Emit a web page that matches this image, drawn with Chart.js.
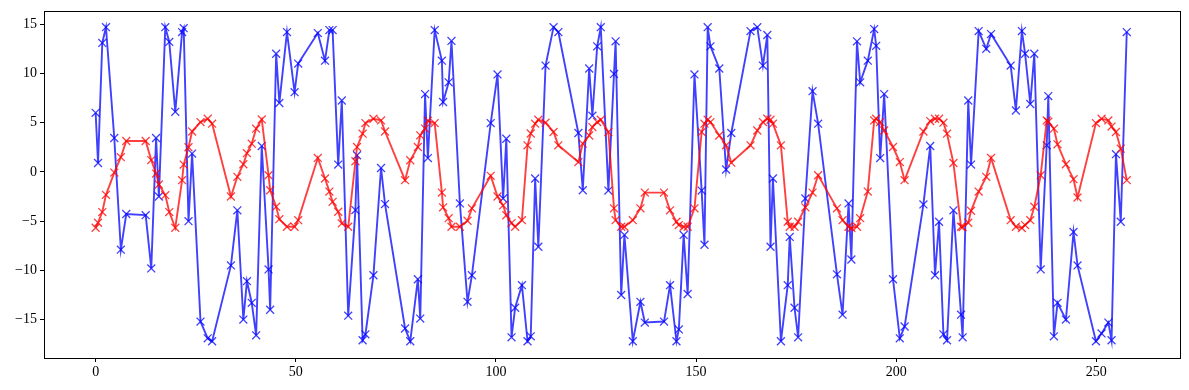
<!DOCTYPE html>
<html lang="en">
<head>
    <meta charset="UTF-8">
    <title>Two series</title>
    <script src="https://cdn.jsdelivr.net/npm/chart.js"></script>
    <style>
        body { margin: 0; background: #fff; }
        canvas { display: block; }
    </style>
</head>
<body>
    <canvas id="chart" width="1189" height="390"></canvas>

    <script>
        // sample positions shared by both series
        const xs = [
            0.0, 0.6, 1.66, 2.58, 4.66, 6.3, 7.65, 12.5, 13.9, 15.1, 15.8, 17.4, 18.4, 19.9, 21.6, 22.0,
            23.2, 24.1, 26.2, 28.0, 29.1, 33.8, 35.4, 36.9, 37.8, 39.0, 40.1, 41.5, 43.2, 43.6, 45.1, 45.9,
            47.8, 49.7, 50.6, 55.5, 57.3, 58.4, 59.2, 60.6, 61.5, 63.1, 64.9, 65.3, 66.7, 67.4, 69.4, 71.3,
            72.3, 77.3, 78.6, 80.5, 81.1, 82.3, 83.0, 84.7, 86.5, 86.8, 88.2, 88.9, 91.0, 92.9, 94.0, 98.7,
            100.4, 101.8, 102.6, 103.9, 104.8, 106.5, 107.9, 108.7, 109.8, 110.6, 112.4, 114.4, 115.6, 120.6,
            121.7, 123.3, 124.1, 125.3, 126.2, 128.1, 129.5, 129.9, 131.3, 132.1, 134.2, 136.1, 137.2, 142.0,
            143.5, 145.1, 145.7, 146.9, 147.9, 149.6, 151.4, 152.1, 152.9, 153.6, 155.8, 157.5, 158.8, 163.6,
            165.3, 166.7, 167.8, 168.6, 169.2, 171.2, 172.9, 173.4, 174.6, 175.5, 177.3, 179.1, 180.5, 185.2,
            186.6, 188.1, 188.8, 190.2, 191.0, 192.9, 194.5, 195.0, 196.0, 197.0, 199.2, 200.9, 202.1, 206.8,
            208.5, 209.7, 210.7, 211.8, 212.7, 214.3, 216.2, 216.6, 218.0, 218.7, 220.6, 222.5, 223.7, 228.6,
            229.9, 231.4, 232.2, 233.5, 234.5, 236.1, 237.6, 238.0, 239.4, 240.3, 242.4, 244.3, 245.3, 249.9,
            251.3, 253.0, 253.8, 254.9, 256.1, 257.6
        ];

        const blueVals = [
            6.0, 0.9, 13.1, 14.7, 3.44, -7.9, -4.28, -4.39, -9.8, 3.44, -2.5, 14.7, 13.2, 6.1, 14.2, 14.6,
            -5.0, 1.86, -15.2, -16.9, -17.2, -9.5, -3.9, -15.0, -11.1, -13.3, -16.6, 2.63, -9.9, -14.0, 12.0, 7.0,
            14.2, 8.1, 11.0, 14.1, 11.3, 14.4, 14.4, 0.74, 7.25, -14.6, -3.88, 1.69, -17.1, -16.5, -10.5, 0.4,
            -3.27, -15.9, -17.2, -10.9, -14.9, 7.9, 1.4, 14.4, 11.3, 7.1, 9.1, 13.3, -3.2, -13.2, -10.5, 4.96,
            9.9, -2.7, 3.37, -16.8, -13.8, -11.5, -17.2, -16.7, -0.67, -7.6, 10.8, 14.7, 14.2, 3.95,
            -1.86, 10.5, 5.7, 12.75, 14.7, -1.9, 9.95, 13.26, -12.5, -6.4, -17.2, -13.2, -15.3, -15.2,
            -11.5, -17.2, -16.0, -6.4, -12.4, 9.9, -1.9, -7.4, 14.7, 12.75, 10.5, 0.24, 3.95, 14.3,
            14.7, 10.8, 13.9, -7.6, -0.67, -17.2, -11.5, -6.6, -13.8, -16.8, -2.7, 8.2, 4.9, -10.4,
            -14.5, -3.2, -8.9, 13.26, 9.1, 11.3, 14.5, 12.8, 1.4, 7.9, -10.9, -16.9, -15.7, -3.3,
            2.63, -10.5, -5.06, -16.5, -17.1, -3.9, -14.5, -16.8, 7.25, 0.74, 14.3, 12.5, 14.0, 10.8,
            6.24, 14.3, 12.0, 6.9, 12.0, -9.9, 2.7, 7.7, -16.7, -13.3, -15.0, -6.1, -9.5, -17.2,
            -16.4, -15.3, -17.1, 1.8, -5.06, 14.2
        ];

        const redVals = [
            -5.67, -5.16, -4.08, -2.33, -0.07, 1.5, 3.14, 3.14, 1.2, -0.17, -1.28, -2.36, -4.08, -5.67, -0.84, 0.74,
            2.5, 4.1, 5.06, 5.4, 4.9, -2.5, -0.5, 0.78, 1.9, 2.87, 4.39, 5.33, -0.34, -1.86, -3.54, -4.8,
            -5.57, -5.57, -4.9, 1.42, -0.67, -2.0, -3.04, -4.05, -5.23, -5.57, 1.08, 2.53, 3.88, 4.96, 5.4, 5.23,
            4.1, -0.84, 1.18, 2.53, 3.71, 4.4, 5.2, 4.96, -2.1, -3.6, -4.7, -5.57, -5.57, -4.96, -3.7, -0.4,
            -2.5, -3.4, -4.4, -5.2, -5.57, -4.9, 2.7, 3.9, 4.9, 5.3, 5.0, 4.05, 2.7, 1.0,
            2.87, 3.7, 4.55, 5.06, 5.3, 4.05, -3.7, -4.9, -5.57, -5.57, -4.9, -3.7, -2.1, -2.1,
            -3.9, -5.06, -5.4, -5.57, -5.57, -3.7, 4.05, 4.9, 5.3, 5.06, 3.7, 2.7, 0.94, 2.7,
            4.2, 5.06, 5.4, 5.3, 4.9, 2.7, -5.06, -5.57, -5.57, -5.06, -3.6, -2.1, -0.34, -3.7,
            -4.9, -5.57, -5.7, -5.57, -4.7, -2.0, 5.23, 5.4, 5.06, 4.2, 2.53, 1.0, -0.84, 4.1,
            5.16, 5.4, 5.4, 5.0, 3.88, 0.9, -5.57, -5.6, -5.16, -3.95, -2.0, -0.5, 1.42, -4.9,
            -5.57, -5.7, -5.4, -4.9, -3.54, -0.34, 5.23, 5.1, 4.39, 2.8, 0.78, -0.74, -2.6, 4.96,
            5.4, 5.23, 4.6, 4.05, 2.36, -0.84
        ];

        const xTicks = [0, 50, 100, 150, 200, 250];
        const yTicks = [-15, -10, -5, 0, 5, 10, 15];

        const toPoints = vals => xs.map((x, i) => ({ x: x, y: vals[i] }));

        // full box around the plot area, like matplotlib spines
        const frame = {
            id: 'frame',
            afterDraw(chart) {
                const a = chart.chartArea;
                const ctx = chart.ctx;
                ctx.save();
                ctx.strokeStyle = '#000';
                ctx.lineWidth = 1;
                ctx.strokeRect(Math.round(a.left) + 0.5, Math.round(a.top) + 0.5,
                    Math.round(a.right - a.left), Math.round(a.bottom - a.top));
                ctx.restore();
            }
        };

        const tickFont = { family: '"Liberation Serif", "DejaVu Serif", serif', size: 14 };
        const minusLabel = v => String(v).replace('-', '\u2212');

        new Chart(document.getElementById('chart').getContext('2d'), {
            type: 'line',
            data: {
                datasets: [
                    {
                        data: toPoints(redVals),
                        borderColor: 'rgba(255, 0, 0, 0.75)',
                        pointBorderColor: 'rgba(255, 0, 0, 0.75)',
                        borderWidth: 1.9,
                        pointStyle: 'crossRot',
                        pointRadius: 5.6,
                        pointBorderWidth: 1.3,
                        fill: false,
                        tension: 0
                    },
                    {
                        data: toPoints(blueVals),
                        borderColor: 'rgba(0, 0, 255, 0.75)',
                        pointBorderColor: 'rgba(0, 0, 255, 0.75)',
                        borderWidth: 1.9,
                        pointStyle: 'crossRot',
                        pointRadius: 5.6,
                        pointBorderWidth: 1.3,
                        fill: false,
                        tension: 0
                    }
                ]
            },
            options: {
                responsive: false,
                animation: false,
                layout: { padding: { left: 0, right: 9, top: 11, bottom: 0 } },
                plugins: {
                    legend: { display: false },
                    tooltip: { enabled: false }
                },
                scales: {
                    x: {
                        type: 'linear',
                        min: -12.9,
                        max: 270.9,
                        afterBuildTicks: axis => { axis.ticks = xTicks.map(v => ({ value: v })); },
                        afterFit: axis => { axis.height = 32; },
                        grid: { drawOnChartArea: false, tickLength: 4, tickColor: '#000' },
                        border: { display: false },
                        ticks: { color: '#000', font: tickFont, padding: 2, maxRotation: 0 }
                    },
                    y: {
                        min: -18.9,
                        max: 16.3,
                        afterBuildTicks: axis => { axis.ticks = yTicks.map(v => ({ value: v })); },
                        afterFit: axis => { axis.width = 44; },
                        grid: { drawOnChartArea: false, tickLength: 4, tickColor: '#000' },
                        border: { display: false },
                        ticks: { color: '#000', font: tickFont, padding: 3, callback: minusLabel }
                    }
                }
            },
            plugins: [frame]
        });
    </script>
</body>
</html>
